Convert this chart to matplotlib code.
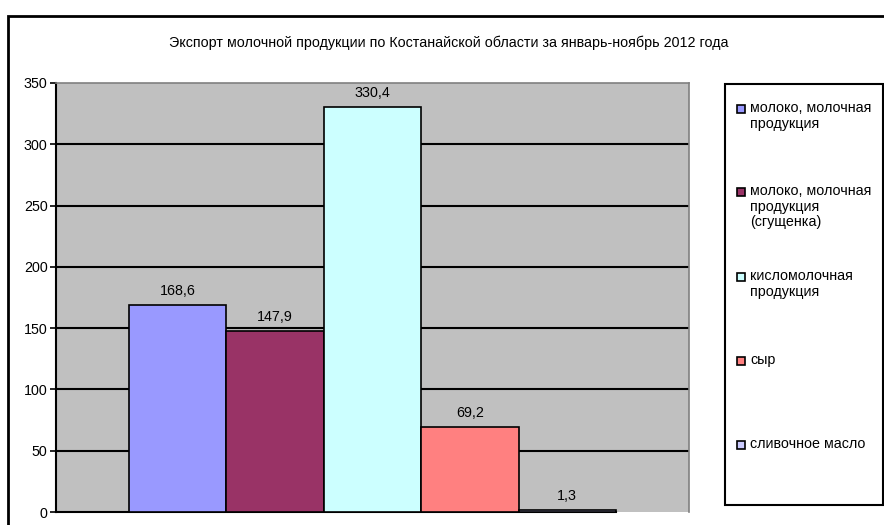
import matplotlib.pyplot as plt
from matplotlib.patches import Rectangle

# data
title = 'Экспорт молочной продукции по Костанайской области за январь-ноябрь 2012 года'
labels = ['молоко, молочная\nпродукция',
          'молоко, молочная\nпродукция\n(сгущенка)',
          'кисломолочная\nпродукция',
          'сыр',
          'сливочное масло']
values = [168.6, 147.9, 330.4, 69.2, 1.3]
value_text = ['168,6', '147,9', '330,4', '69,2', '1,3']
colors = ['#9999FF', '#993366', '#CCFFFF', '#FF8080', '#CCCCFF']
yticks = [0, 50, 100, 150, 200, 250, 300, 350]

plt.rcParams['font.family'] = ['Liberation Sans', 'DejaVu Sans']
FS = 10.3

W, H = 884, 525
fig = plt.figure(figsize=(W / 100, H / 100), dpi=100)

# outer chart frame (runs off the right/bottom edge)
fig.patches.append(Rectangle((8 / W, -0.05), 1.1, 1 - 16 / H + 0.05,
                             transform=fig.transFigure, fill=False,
                             edgecolor='black', linewidth=2))

# plot area
ax = fig.add_axes([56 / W, 1 - 512 / H, (689 - 56) / W, (512 - 83) / H])
ax.set_facecolor('#C0C0C0')
ax.set_ylim(0, 350)
ax.set_xlim(-1.25, 5.25)
ax.set_yticks(yticks)
ax.set_xticks([])
for y in yticks[1:-1]:
    ax.axhline(y, color='black', linewidth=1.5, zorder=1)

xs = list(range(len(values)))
ax.bar(xs, values, width=1.0, color=colors, edgecolor='black',
       linewidth=1.2, zorder=3)
for x, v, t in zip(xs, values, value_text):
    ax.text(x, v + 11.5, t, ha='center', va='center', fontsize=FS, zorder=4)

for s in ['top', 'right']:
    ax.spines[s].set_color('#808080')
    ax.spines[s].set_linewidth(1.2)
ax.spines['left'].set_linewidth(1.5)
ax.spines['bottom'].set_linewidth(1.5)
ax.spines['bottom'].set_bounds(-1.25, 4.5)
ax.tick_params(axis='y', labelsize=FS, length=4, width=1.2, pad=2)

fig.text(449 / W, 1 - 43 / H, title, ha='center', va='center', fontsize=FS)

# legend box
fig.patches.append(Rectangle((725 / W, 1 - 505 / H), (883 - 725) / W, (505 - 84) / H,
                             transform=fig.transFigure, fill=False,
                             edgecolor='black', linewidth=1.5))
entry_y = [109, 192, 277, 361, 445]
for lab, c, yy in zip(labels, colors, entry_y):
    fig.patches.append(Rectangle((737 / W, 1 - (yy + 4) / H), 8 / W, 8 / H,
                                 transform=fig.transFigure, facecolor=c,
                                 edgecolor='black', linewidth=1.2))
    fig.text(750 / W, 1 - (yy - 8) / H, lab, ha='left', va='top',
             fontsize=FS, linespacing=1.15)

fig.savefig('out.png', dpi=100)
